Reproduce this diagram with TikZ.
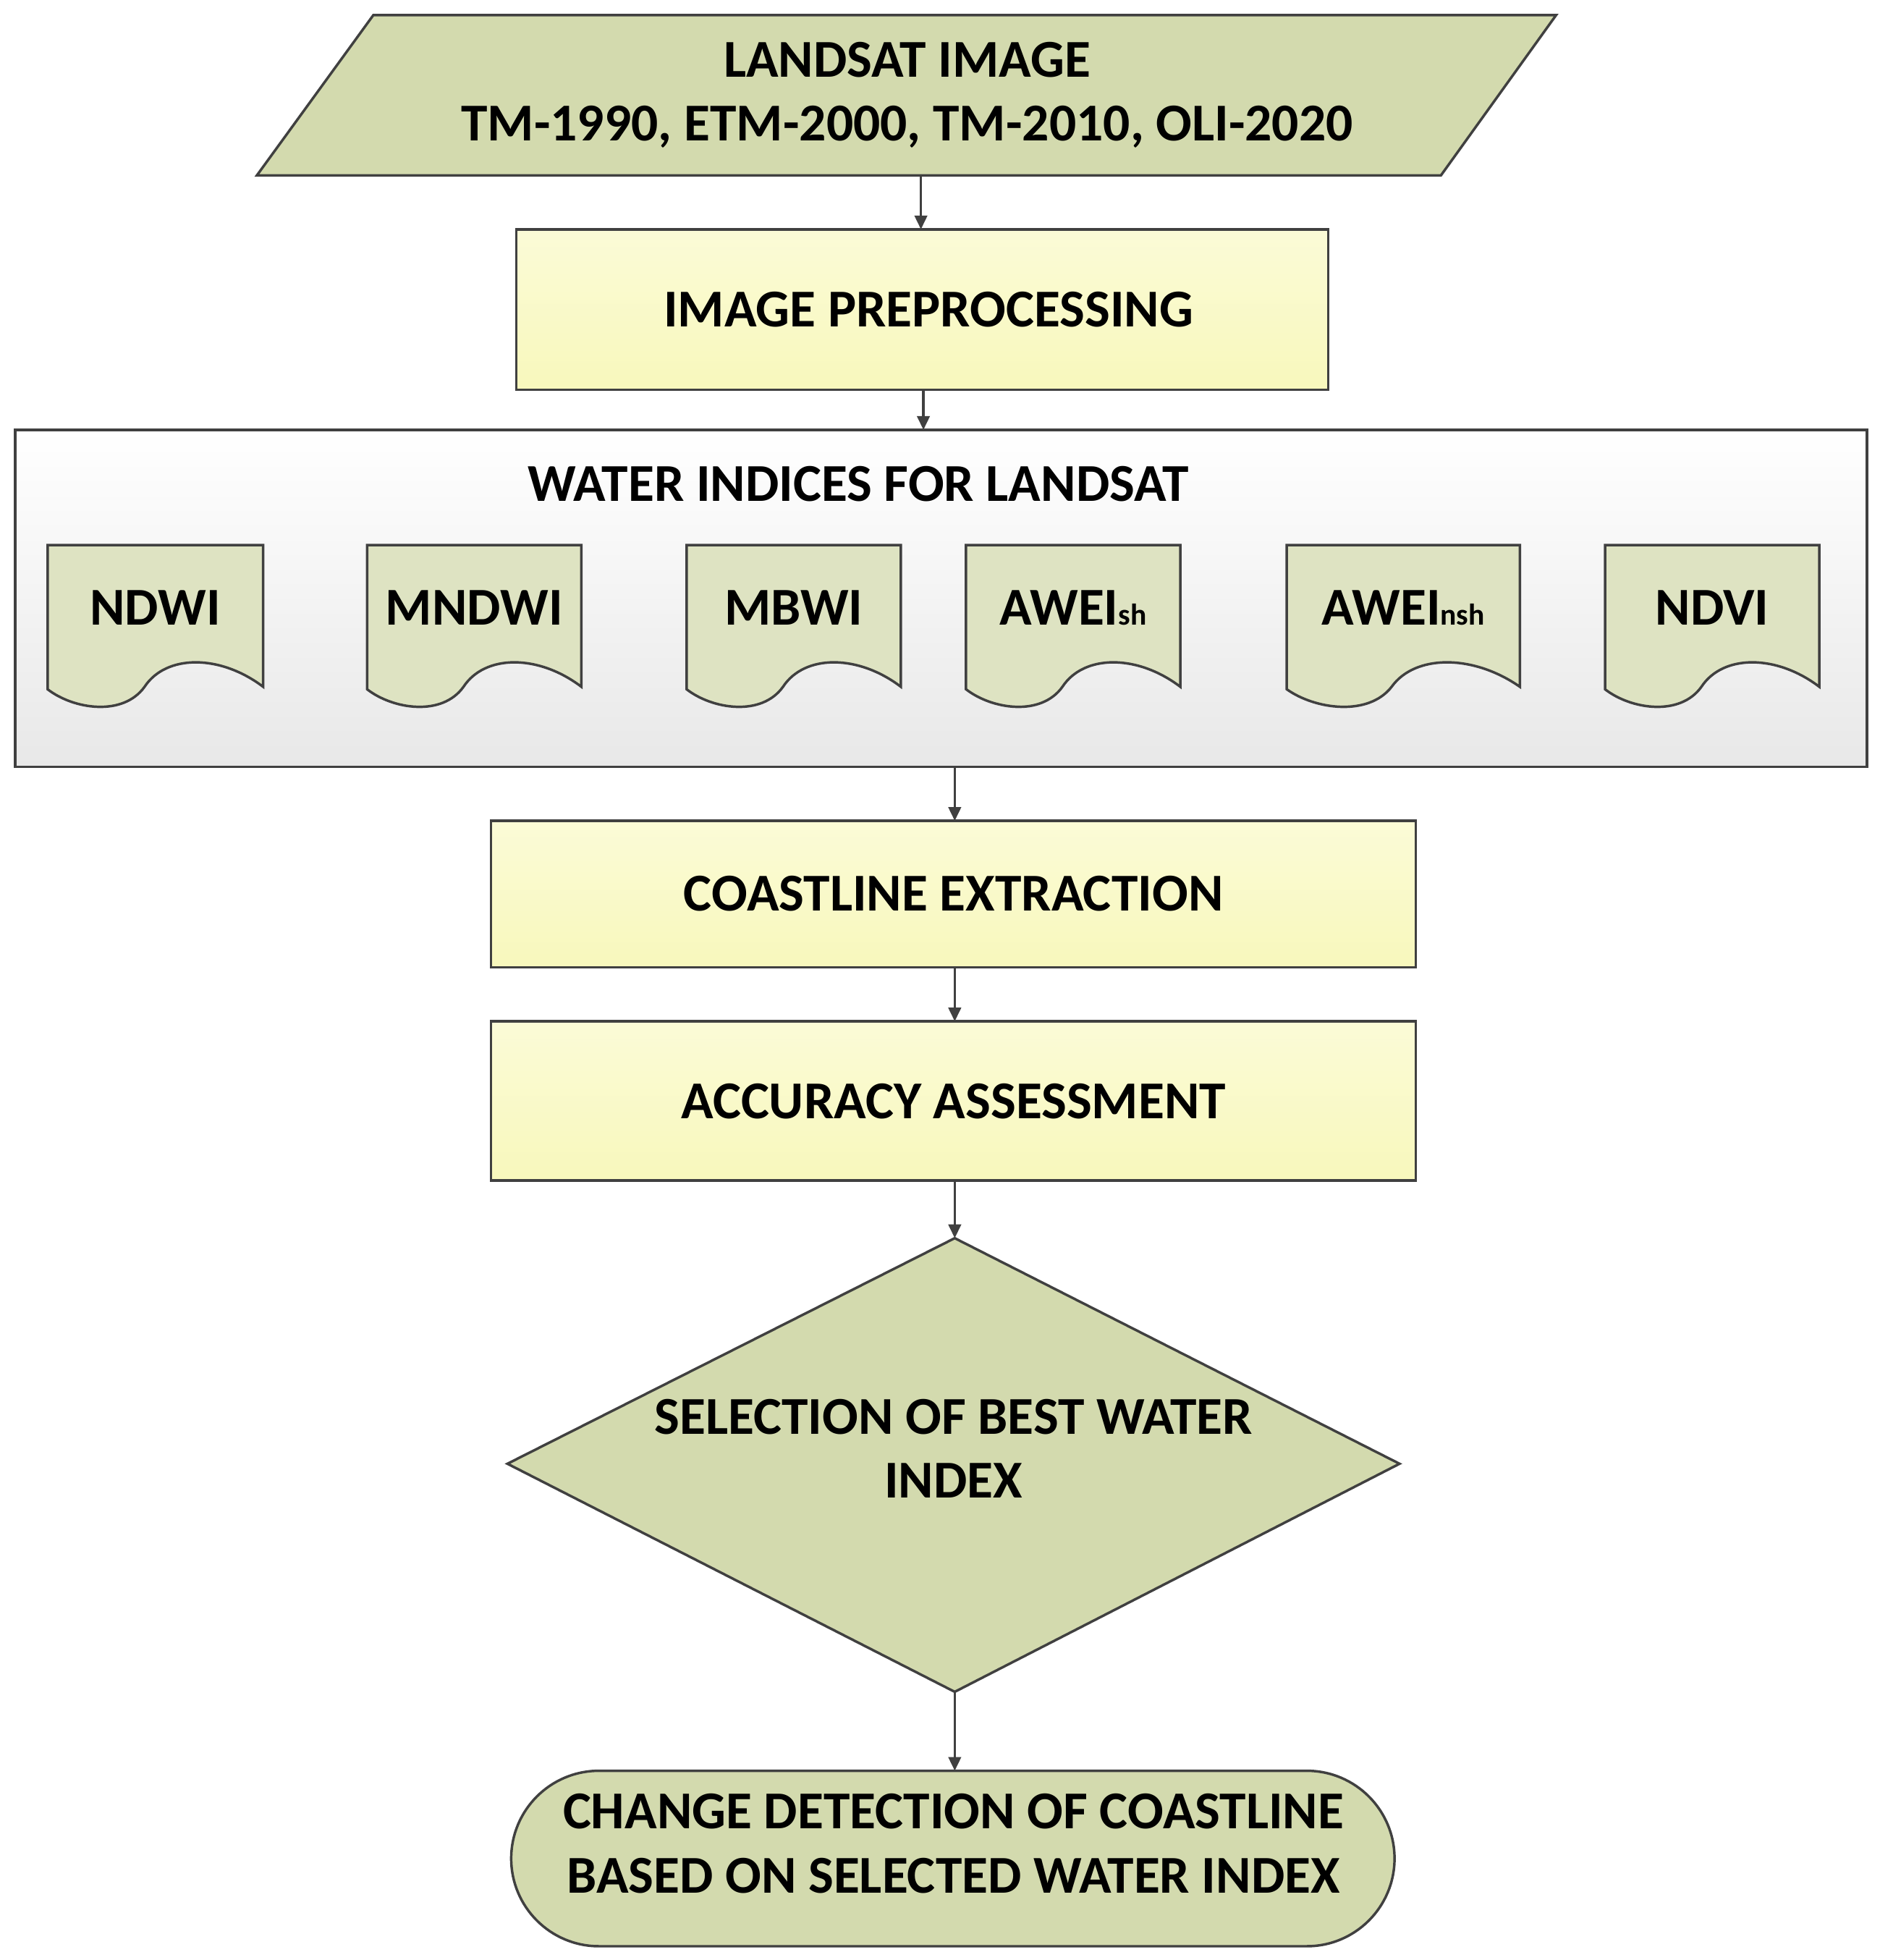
\documentclass[tikz,border=0pt]{standalone}
\usepackage{fontspec}
\setmainfont{Carlito}
\usetikzlibrary{arrows.meta,shapes.geometric,shapes.misc}
\definecolor{edge}{HTML}{404040}
\definecolor{gfill}{HTML}{D3DAAE}
\definecolor{yfill}{HTML}{F8F8BC}
\tikzset{
  x=1pt,y=-1pt,
  lbl/.style={font=\fontsize{42.5}{51}\selectfont\bfseries, text=black, align=center},
  shp/.style={draw=edge, line width=2pt},
  arr/.style={draw=edge, line width=2pt, -{Triangle[length=11pt,width=10pt]}},
  ybox/.style={shp, top color=yfill!60!white, bottom color=yfill},
}
\newcommand{\docshape}[4]{% name, x0, x1, label
  \fill[gfill!75!white] (#2,435) -- (#3,435) -- (#3,548)
     .. controls ({#2+0.8*(#3-#2)},522) and ({#2+0.55*(#3-#2)},522) .. ({#2+0.45*(#3-#2)},548)
     .. controls ({#2+0.35*(#3-#2)},572) and ({#2+0.12*(#3-#2)},566) .. (#2,550) -- cycle;
  \draw[shp] (#2,435) -- (#3,435) -- (#3,548)
     .. controls ({#2+0.8*(#3-#2)},522) and ({#2+0.55*(#3-#2)},522) .. ({#2+0.45*(#3-#2)},548)
     .. controls ({#2+0.35*(#3-#2)},572) and ({#2+0.12*(#3-#2)},566) .. (#2,550) -- cycle;
  \node[lbl] (#1) at ({(#2+#3)/2},485) {#4};
}
\begin{document}
\begin{tikzpicture}
\useasboundingbox (0,0) rectangle (1500,1564);
\fill[white] (0,0) rectangle (1500,1564);
% input parallelogram
\draw[shp, fill=gfill] (298,12) -- (1242,12) -- (1150,140) -- (205,140) -- cycle;
\node[lbl] (in) at (724,76) {LANDSAT IMAGE\\TM-1990, ETM-2000, TM-2010, OLI-2020};
\coordinate (inb) at (735,140);
% preprocessing
\draw[ybox] (412,183) rectangle (1060,311);
\node[lbl] (pre) at (741,247) {IMAGE PREPROCESSING};
\coordinate (pret) at (735,183);
\coordinate (preb) at (737,311);
% water indices box
\draw[shp, top color=white, bottom color=gray!18] (12,343) rectangle (1490,612);
\node[lbl] (wi) at (685,386) {WATER INDICES FOR LANDSAT};
\coordinate (wit) at (737,343);
\coordinate (wib) at (762,612);
\docshape{d1}{38}{210}{NDWI}
\docshape{d2}{293}{464}{MNDWI}
\docshape{d3}{548}{719}{MBWI}
\docshape{d4}{771}{942}{AWEI{\fontsize{24}{24}\selectfont sh}}
\docshape{d5}{1027}{1213}{AWEI{\fontsize{24}{24}\selectfont nsh}}
\docshape{d6}{1281}{1452}{NDVI}
% coastline extraction
\draw[ybox] (392,655) rectangle (1130,772);
\node[lbl] (ce) at (761,713) {COASTLINE EXTRACTION};
\coordinate (cet) at (762,655);
\coordinate (ceb) at (762,772);
% accuracy
\draw[ybox] (392,815) rectangle (1130,942);
\node[lbl] (aa) at (761,879) {ACCURACY ASSESSMENT};
\coordinate (aat) at (762,815);
\coordinate (aab) at (762,942);
% diamond
\draw[shp, fill=gfill] (762,988) -- (1117,1168) -- (762,1350) -- (405,1168) -- cycle;
\node[lbl] (dm) at (761,1156) {SELECTION OF BEST WATER\\INDEX};
\coordinate (dmt) at (762,988);
\coordinate (dmb) at (762,1350);
% terminal
\draw[shp, fill=gfill, rounded corners=70pt] (408,1413) rectangle (1113,1553);
\node[lbl] (tm) at (761,1471) {CHANGE DETECTION OF COASTLINE\\BASED ON SELECTED WATER INDEX};
\coordinate (tmt) at (762,1413);
% arrows
\draw[arr] (inb) -- (pret);
\draw[arr] (preb) -- (wit);
\draw[arr] (wib) -- (cet);
\draw[arr] (ceb) -- (aat);
\draw[arr] (aab) -- (dmt);
\draw[arr] (dmb) -- (tmt);
\end{tikzpicture}
\end{document}
